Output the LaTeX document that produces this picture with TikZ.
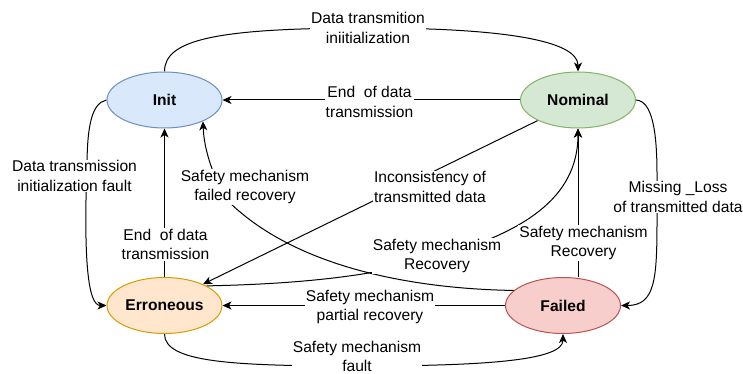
\documentclass[tikz,border=0pt]{standalone}
\usepackage{fontspec}
\setmainfont{Liberation Sans}
\usetikzlibrary{arrows.meta,shapes.geometric}
\pgfdeclarelayer{bg}\pgfsetlayers{bg,main}
\definecolor{initfill}{HTML}{DAE8FC}\definecolor{initdraw}{HTML}{6C8EBF}
\definecolor{nomfill}{HTML}{D5E8D4}\definecolor{nomdraw}{HTML}{82B366}
\definecolor{errfill}{HTML}{FFE6CC}\definecolor{errdraw}{HTML}{D79B00}
\definecolor{failfill}{HTML}{F8CECC}\definecolor{faildraw}{HTML}{B85450}
\begin{document}
\begin{tikzpicture}[x=1pt,y=-1pt,
  state/.style={ellipse, line width=1pt, minimum width=115pt, minimum height=56pt, inner sep=0pt,
    font=\fontsize{15.6}{19}\selectfont\bfseries},
  lbl/.style={fill=white, inner sep=1pt, align=center, font=\fontsize{15.6}{19.5}\selectfont},
  conn/.style={line width=1pt, -{Stealth[length=9pt,width=8pt,inset=2.5pt]}}
]
\useasboundingbox (0,0) rectangle (743,374);

\node[state, fill=initfill, draw=initdraw] (init) at (164.5,100) {Init};
\node[state, fill=nomfill, draw=nomdraw] (nominal) at (578,100) {Nominal};
\node[state, fill=errfill, draw=errdraw] (erroneous) at (164.5,305.5) {Erroneous};
\node[state, fill=failfill, draw=faildraw] (failed) at (563,305.5) {Failed};

\node[lbl] (lA) at (368,28) {Data transmition\\iniitialization};
\node[lbl] (lB) at (369.5,102) {End\ \ of data\\transmission};
\node[lbl] (lC) at (74.5,176) {Data transmission\\initialization fault};
\node[lbl] (lD) at (165.5,244.5) {End\ \ of data\\transmission};
\node[lbl] (lE) at (245,187) {Safety mechanism\\failed recovery};
\node[lbl] (lF) at (430,187) {Inconsistency of\\transmitted data};
\node[lbl] (lG) at (437,256) {Safety mechanism\\Recovery};
\node[lbl] (lH) at (583.5,243) {Safety mechanism\\Recovery};
\node[lbl] (lI) at (678,197) {Missing \_Loss\\of transmitted data};
\node[lbl] (lJ) at (370,307) {Safety mechanism\\partial recovery};
\node[lbl] (lK) at (357,356.5) {Safety mechanism\\fault};

\begin{pgfonlayer}{bg}
\draw[conn] (init.north) .. controls (164.5,40) and (215,28) .. (lA.center)
  .. controls (500,28) and (578,40) .. (nominal.north);
\draw[conn] (nominal.west) -- (init.east);
\draw[conn] (init.west) .. controls (92,103) and (87,125) .. (87,168) -- (86,200)
  .. controls (85,260) and (88,305.5) .. (erroneous.west);
\draw[conn] (erroneous.north) -- (init.south);
\draw[conn] (failed.163) .. controls (420,289) and (295,270) .. (225,198)
  .. controls (213,175) and (204,150) .. (init.331);
\draw[conn] (nominal.207) -- (erroneous.29);
\draw[conn] (erroneous.25) .. controls (300,284) and (380,276) .. (445,255)
  .. controls (520,232) and (578,200) .. (nominal.south);
\draw[conn] (failed.north -| nominal.south) -- (nominal.south);
\draw[conn] (nominal.east) .. controls (652,101) and (657,130) .. (657,175) -- (657,220)
  .. controls (657,280) and (655,305.5) .. (failed.east);
\draw[conn] (failed.west) -- (erroneous.east);
\draw[conn] (erroneous.south) .. controls (164.5,362) and (230,366) .. (357,366)
  .. controls (490,366) and (563,360) .. (failed.south);
\end{pgfonlayer}
\end{tikzpicture}
\end{document}
